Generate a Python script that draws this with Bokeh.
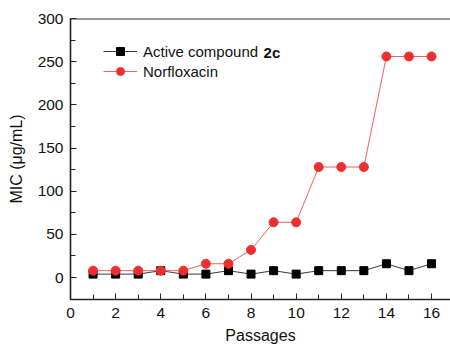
from bokeh.plotting import figure
from bokeh.models import (Range1d, SingleIntervalTicker, Legend, LegendItem, Label, Span)
from bokeh.embed import file_html
from bokeh.resources import INLINE

passages = list(range(1, 17))
compound_2c = [4, 4, 4, 8, 4, 4, 8, 4, 8, 4, 8, 8, 8, 16, 8, 16]
norfloxacin = [8, 8, 8, 8, 8, 16, 16, 32, 64, 64, 128, 128, 128, 256, 256, 256]

FONT = "Liberation Sans"

p = figure(width=450, height=346, output_backend="svg", toolbar_location=None,
           x_range=Range1d(0, 16.84), y_range=Range1d(-25.4, 300),
           min_border_left=70, min_border_right=0, min_border_top=18, min_border_bottom=46)
p.outline_line_color = None
p.grid.visible = False
p.background_fill_color = "white"
p.border_fill_color = "white"

l1 = p.line(passages, compound_2c, line_color="#3a3a3a", line_width=1)
s1 = p.scatter(passages, compound_2c, marker="square", size=8, fill_color="black", line_color="black")
l2 = p.line(passages, norfloxacin, line_color="#f06060", line_width=1)
s2 = p.scatter(passages, norfloxacin, marker="circle", size=9, fill_color="#ee2f2f", line_color="#ee2f2f")

p.add_layout(Span(location=300, dimension="width", line_color="#333333", line_width=2))

p.xaxis.ticker = SingleIntervalTicker(interval=2, num_minor_ticks=2)
p.yaxis.ticker = SingleIntervalTicker(interval=50, num_minor_ticks=2)
for ax in (p.xaxis, p.yaxis):
    ax.axis_line_width = 1.6
    ax.axis_line_color = "#222222"
    ax.major_tick_in = 6
    ax.major_tick_out = 0
    ax.minor_tick_in = 5
    ax.minor_tick_out = 0
    ax.major_tick_line_color = "#222222"
    ax.minor_tick_line_color = "#222222"
    ax.major_label_text_font = FONT
    ax.major_label_text_font_size = "15.5px"
    ax.major_label_text_color = "#111111"
    ax.axis_label_text_font = FONT
    ax.axis_label_text_font_size = "16px"
    ax.axis_label_text_font_style = "normal"
    ax.axis_label_text_color = "#111111"
p.xaxis.axis_label = "Passages"
p.yaxis.axis_label = "MIC (μg/mL)"
p.xaxis.major_label_standoff = 8
p.xaxis.axis_label_standoff = 6
p.yaxis.major_label_standoff = 7
p.yaxis.axis_label_standoff = 10

legend = Legend(items=[LegendItem(label="Active compound", renderers=[l1, s1]),
                       LegendItem(label="Norfloxacin", renderers=[l2, s2])],
                location=(33, 218), padding=0, margin=0, spacing=0,
                glyph_width=34, glyph_height=20, label_height=20, label_standoff=6,
                border_line_color=None, background_fill_alpha=0,
                label_text_font=FONT, label_text_font_size="15px", label_text_color="#111111")
p.add_layout(legend)

p.add_layout(Label(x=(263 - 70) / 22.56, y=(278 - 52) / 0.867, text="2c", text_font=FONT,
                   text_font_size="15px", text_font_style="bold", text_baseline="middle",
                   text_color="#111111"))

open("out.html", "w").write(file_html(p, INLINE))
